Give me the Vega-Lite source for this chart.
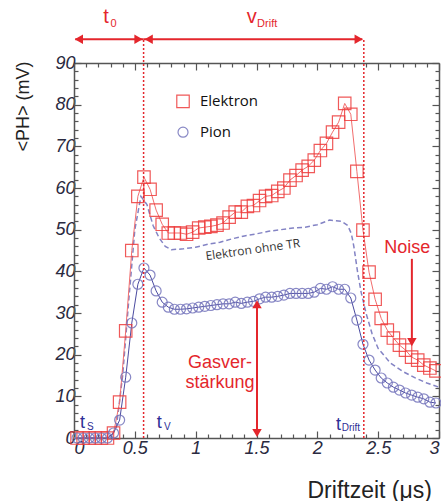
{
  "$schema": "https://vega.github.io/schema/vega-lite/v6.json",
  "width": 365,
  "height": 375,
  "autosize": "none",
  "padding": {"left": 74, "top": 63, "right": 2, "bottom": 63},
  "background": "white",
  "config": {
    "view": {"stroke": null},
    "axis": {
      "grid": false,
      "domainColor": "#555555",
      "domainWidth": 1.5,
      "tickColor": "#555555",
      "tickWidth": 1.2,
      "labelFont": "Liberation Sans",
      "labelFontStyle": "italic",
      "labelFontSize": 18,
      "labelColor": "#2a2a40",
      "titleFont": "Liberation Sans",
      "titleFontWeight": "normal",
      "titleColor": "#222222"
    }
  },
  "datasets": {
    "main": [
      {"s":"Elektron","t":0.025,"ph":0},{"s":"Elektron","t":0.075,"ph":0},{"s":"Elektron","t":0.125,"ph":0},{"s":"Elektron","t":0.175,"ph":0},{"s":"Elektron","t":0.225,"ph":0},{"s":"Elektron","t":0.275,"ph":0},
      {"s":"Elektron","t":0.325,"ph":1.2},{"s":"Elektron","t":0.375,"ph":8.6},{"s":"Elektron","t":0.425,"ph":25.7},{"s":"Elektron","t":0.475,"ph":45},{"s":"Elektron","t":0.525,"ph":58},{"s":"Elektron","t":0.575,"ph":62.6},{"s":"Elektron","t":0.625,"ph":59.7},{"s":"Elektron","t":0.675,"ph":54.7},{"s":"Elektron","t":0.725,"ph":51.3},{"s":"Elektron","t":0.775,"ph":49.2},{"s":"Elektron","t":0.825,"ph":49.2},{"s":"Elektron","t":0.875,"ph":49.2},{"s":"Elektron","t":0.925,"ph":48.9},{"s":"Elektron","t":0.975,"ph":49.4},
      {"s":"Elektron","t":1.025,"ph":50.4},{"s":"Elektron","t":1.075,"ph":50.6},{"s":"Elektron","t":1.125,"ph":50.8},{"s":"Elektron","t":1.175,"ph":51.1},{"s":"Elektron","t":1.225,"ph":51.6},{"s":"Elektron","t":1.275,"ph":53},{"s":"Elektron","t":1.325,"ph":54.2},{"s":"Elektron","t":1.375,"ph":54.2},{"s":"Elektron","t":1.425,"ph":55.6},{"s":"Elektron","t":1.475,"ph":55.8},
      {"s":"Elektron","t":1.525,"ph":57},{"s":"Elektron","t":1.575,"ph":58},{"s":"Elektron","t":1.625,"ph":58.2},{"s":"Elektron","t":1.675,"ph":59.2},{"s":"Elektron","t":1.725,"ph":60},{"s":"Elektron","t":1.775,"ph":61.9},{"s":"Elektron","t":1.825,"ph":63},{"s":"Elektron","t":1.875,"ph":64.3},{"s":"Elektron","t":1.925,"ph":65.2},{"s":"Elektron","t":1.975,"ph":66.7},
      {"s":"Elektron","t":2.025,"ph":69},{"s":"Elektron","t":2.075,"ph":70.7},{"s":"Elektron","t":2.125,"ph":73.4},{"s":"Elektron","t":2.175,"ph":75.8},{"s":"Elektron","t":2.225,"ph":80.3},{"s":"Elektron","t":2.275,"ph":77.7},{"s":"Elektron","t":2.325,"ph":64},{"s":"Elektron","t":2.375,"ph":49.9},{"s":"Elektron","t":2.425,"ph":39.8},{"s":"Elektron","t":2.475,"ph":33.3},
      {"s":"Elektron","t":2.525,"ph":28.7},{"s":"Elektron","t":2.575,"ph":25.9},{"s":"Elektron","t":2.625,"ph":24},{"s":"Elektron","t":2.675,"ph":22.3},{"s":"Elektron","t":2.725,"ph":21.1},{"s":"Elektron","t":2.775,"ph":19.4},{"s":"Elektron","t":2.825,"ph":18.7},{"s":"Elektron","t":2.875,"ph":17.5},{"s":"Elektron","t":2.925,"ph":16.8},{"s":"Elektron","t":2.975,"ph":16.1},
      {"s":"Pion","t":0.025,"ph":0},{"s":"Pion","t":0.075,"ph":0},{"s":"Pion","t":0.125,"ph":0},{"s":"Pion","t":0.175,"ph":0},{"s":"Pion","t":0.225,"ph":0},{"s":"Pion","t":0.275,"ph":0},
      {"s":"Pion","t":0.325,"ph":1.2},{"s":"Pion","t":0.375,"ph":4.3},{"s":"Pion","t":0.425,"ph":14.6},{"s":"Pion","t":0.475,"ph":27.6},{"s":"Pion","t":0.525,"ph":36.9},{"s":"Pion","t":0.575,"ph":40.8},{"s":"Pion","t":0.625,"ph":39.1},{"s":"Pion","t":0.675,"ph":35.3},{"s":"Pion","t":0.725,"ph":32.6},{"s":"Pion","t":0.775,"ph":31.4},{"s":"Pion","t":0.825,"ph":30.9},{"s":"Pion","t":0.875,"ph":30.9},{"s":"Pion","t":0.925,"ph":31},{"s":"Pion","t":0.975,"ph":31.2},
      {"s":"Pion","t":1.025,"ph":31.4},{"s":"Pion","t":1.075,"ph":31.6},{"s":"Pion","t":1.125,"ph":31.8},{"s":"Pion","t":1.175,"ph":32},{"s":"Pion","t":1.225,"ph":32.2},{"s":"Pion","t":1.275,"ph":32.2},{"s":"Pion","t":1.325,"ph":32.6},{"s":"Pion","t":1.375,"ph":32.3},{"s":"Pion","t":1.425,"ph":32.6},{"s":"Pion","t":1.475,"ph":32.8},
      {"s":"Pion","t":1.525,"ph":33.4},{"s":"Pion","t":1.575,"ph":33.8},{"s":"Pion","t":1.625,"ph":33.8},{"s":"Pion","t":1.675,"ph":34},{"s":"Pion","t":1.725,"ph":34.3},{"s":"Pion","t":1.775,"ph":34.7},{"s":"Pion","t":1.825,"ph":34.7},{"s":"Pion","t":1.875,"ph":34.7},{"s":"Pion","t":1.925,"ph":34.7},{"s":"Pion","t":1.975,"ph":35},
      {"s":"Pion","t":2.025,"ph":35.9},{"s":"Pion","t":2.075,"ph":35.7},{"s":"Pion","t":2.125,"ph":36.3},{"s":"Pion","t":2.175,"ph":35.7},{"s":"Pion","t":2.225,"ph":35.7},{"s":"Pion","t":2.275,"ph":33.6},{"s":"Pion","t":2.325,"ph":28.3},{"s":"Pion","t":2.375,"ph":22.5},{"s":"Pion","t":2.425,"ph":18.7},{"s":"Pion","t":2.475,"ph":16.3},
      {"s":"Pion","t":2.525,"ph":14.4},{"s":"Pion","t":2.575,"ph":13.2},{"s":"Pion","t":2.625,"ph":12.2},{"s":"Pion","t":2.675,"ph":11.5},{"s":"Pion","t":2.725,"ph":10.8},{"s":"Pion","t":2.775,"ph":10.3},{"s":"Pion","t":2.825,"ph":9.8},{"s":"Pion","t":2.875,"ph":9.4},{"s":"Pion","t":2.925,"ph":8.6},{"s":"Pion","t":2.975,"ph":8.4}
    ],
    "legend": [{"s":"Elektron","t":0.896,"ph":80.8},{"s":"Pion","t":0.896,"ph":73.4}],
    "ohne": [
      {"t":0,"ph":0},{"t":0.3,"ph":0},{"t":0.35,"ph":3},{"t":0.4,"ph":15},{"t":0.45,"ph":33},{"t":0.5,"ph":50},{"t":0.55,"ph":58},{"t":0.6,"ph":56},{"t":0.65,"ph":51},{"t":0.7,"ph":48},{"t":0.75,"ph":46},{"t":0.8,"ph":45.2},{"t":0.9,"ph":45.4},{"t":1.0,"ph":45.8},{"t":1.1,"ph":46.5},{"t":1.2,"ph":47},{"t":1.3,"ph":47.8},{"t":1.4,"ph":48.5},{"t":1.5,"ph":49},{"t":1.6,"ph":49.6},{"t":1.7,"ph":50},{"t":1.8,"ph":50.4},{"t":1.9,"ph":50.6},{"t":2.0,"ph":51.2},{"t":2.1,"ph":52.3},{"t":2.2,"ph":52},{"t":2.25,"ph":51},{"t":2.28,"ph":49},{"t":2.3,"ph":46},{"t":2.33,"ph":40},{"t":2.36,"ph":35},{"t":2.4,"ph":30},{"t":2.45,"ph":25},{"t":2.5,"ph":21.5},{"t":2.6,"ph":18},{"t":2.7,"ph":16},{"t":2.8,"ph":14.5},{"t":2.9,"ph":13.2},{"t":3.0,"ph":12.2}
    ],
    "vlines": [{"t":0.572},{"t":2.382}],
    "harrows": [{"t":0.01,"t2":0.572,"ph":95.7},{"t":0.572,"t2":2.37,"ph":95.7}],
    "varrows": [{"t":1.504,"ph":1,"ph2":32.5},{"t":2.777,"ph":23.5,"ph2":43}],
    "tri": [
      {"dir":"left","t":0.04,"ph":95.7},{"dir":"right","t":0.53,"ph":95.7},{"dir":"left","t":0.614,"ph":95.7},{"dir":"right","t":2.34,"ph":95.7},
      {"dir":"up","t":1.504,"ph":32.1},{"dir":"down","t":1.504,"ph":1.2},{"dir":"down","t":2.777,"ph":23}
    ],
    "texts": [
      {"g":"redbig","txt":"t","t":0.24,"ph":99.5},{"g":"redbig","txt":"v","t":1.42,"ph":99.5},
      {"g":"redsub","txt":"0","t":0.30,"ph":98.7},{"g":"redsub","txt":"Drift","t":1.505,"ph":98.7},
      {"g":"redmid","txt":"Gasver-","t":1.2,"ph":16.8},{"g":"redmid","txt":"stärkung","t":1.2,"ph":12},{"g":"redmid","txt":"Noise","t":2.74,"ph":44.4},
      {"g":"navy","txt":"t","t":0.05,"ph":2.3},{"g":"navy","txt":"t","t":0.68,"ph":2.3},{"g":"navy","txt":"t","t":2.153,"ph":2.0},
      {"g":"navysub","txt":"S","t":0.107,"ph":1.9},{"g":"navysub","txt":"V","t":0.74,"ph":1.9},{"g":"navysub","txt":"Drift","t":2.2,"ph":1.6},
      {"g":"gray","txt":"Elektron ohne TR","t":1.47,"ph":45.2},
      {"g":"leg","txt":"Elektron","t":1.035,"ph":80.8},{"g":"leg","txt":"Pion","t":1.035,"ph":73.4}
    ],
    "dummy": [{"t":0,"ph":0}]
  },
  "layer": [
    {
      "data": {"name": "ohne"},
      "mark": {"type": "line", "strokeDash": [5, 3], "color": "#8383c4", "strokeWidth": 1.5},
      "encoding": {
        "x": {"field": "t", "type": "quantitative", "scale": {"domain": [0, 3], "nice": false}, "axis": null},
        "y": {"field": "ph", "type": "quantitative", "scale": {"domain": [0, 90], "nice": false}, "axis": null}
      }
    },
    {
      "data": {"name": "main"},
      "mark": {"type": "line", "strokeWidth": 1},
      "encoding": {
        "x": {"field": "t", "type": "quantitative", "scale": {"domain": [0, 3], "nice": false},
          "axis": {"orient": "bottom", "values": [0, 0.5, 1, 1.5, 2, 2.5, 3], "format": ".1~f", "tickSize": -7, "labelPadding": 8,
            "title": "Driftzeit (μs)", "titleFontSize": 23, "titleAlign": "left", "titleAnchor": null, "titleX": 233, "titleY": 59, "titleBaseline": "alphabetic"}},
        "y": {"field": "ph", "type": "quantitative", "scale": {"domain": [0, 90], "nice": false},
          "axis": {"orient": "left", "values": [0, 10, 20, 30, 40, 50, 60, 70, 80, 90], "tickSize": -7, "labelPadding": 6,
            "title": "<PH> (mV)", "titleFontSize": 18, "titleAngle": -90, "titleAlign": "center", "titleBaseline": "middle", "titleAnchor": null, "titleX": -51, "titleY": 43}},
        "stroke": {"field": "s", "type": "nominal", "scale": {"domain": ["Elektron", "Pion"], "range": ["#f26d6d", "#4b4ba0"]}, "legend": null},
        "detail": {"field": "s"}
      }
    },
    {
      "data": {"name": "main"},
      "mark": {"type": "point", "filled": false, "strokeWidth": 1.2, "opacity": 0.85},
      "encoding": {
        "x": {"field": "t", "type": "quantitative", "axis": null},
        "y": {"field": "ph", "type": "quantitative", "axis": null},
        "color": {"field": "s", "type": "nominal", "scale": {"domain": ["Elektron", "Pion"], "range": ["#ee3d3d", "#7474bc"]}, "legend": null},
        "shape": {"field": "s", "type": "nominal", "scale": {"domain": ["Elektron", "Pion"], "range": ["square", "circle"]}, "legend": null},
        "size": {"field": "s", "type": "nominal", "scale": {"domain": ["Elektron", "Pion"], "range": [155, 100]}, "legend": null}
      }
    },
    {
      "data": {"name": "legend"},
      "mark": {"type": "point", "filled": false, "strokeWidth": 1.2, "opacity": 0.85},
      "encoding": {
        "x": {"field": "t", "type": "quantitative", "axis": null},
        "y": {"field": "ph", "type": "quantitative", "axis": null},
        "color": {"field": "s", "type": "nominal", "legend": null},
        "shape": {"field": "s", "type": "nominal", "legend": null},
        "size": {"field": "s", "type": "nominal", "legend": null}
      }
    },
    {
      "data": {"name": "vlines"},
      "mark": {"type": "rule", "color": "#e4262c", "strokeWidth": 1.5, "strokeDash": [2, 2]},
      "encoding": {
        "x": {"field": "t", "type": "quantitative", "axis": null},
        "y": {"datum": 0, "axis": null},
        "y2": {"datum": 95.7}
      }
    },
    {
      "data": {"name": "harrows"},
      "mark": {"type": "rule", "color": "#e4262c", "strokeWidth": 2},
      "encoding": {
        "x": {"field": "t", "type": "quantitative", "axis": null},
        "x2": {"field": "t2"},
        "y": {"field": "ph", "type": "quantitative", "axis": null}
      }
    },
    {
      "data": {"name": "varrows"},
      "mark": {"type": "rule", "color": "#e4262c", "strokeWidth": 2},
      "encoding": {
        "x": {"field": "t", "type": "quantitative", "axis": null},
        "y": {"field": "ph", "type": "quantitative", "axis": null},
        "y2": {"field": "ph2"}
      }
    },
    {
      "data": {"name": "tri"},
      "transform": [{"filter": "datum.dir == 'left'"}],
      "mark": {"type": "point", "shape": "triangle-left", "filled": true, "color": "#e4262c", "size": 90, "opacity": 1},
      "encoding": {"x": {"field": "t", "type": "quantitative", "axis": null}, "y": {"field": "ph", "type": "quantitative", "axis": null}}
    },
    {
      "data": {"name": "tri"},
      "transform": [{"filter": "datum.dir == 'right'"}],
      "mark": {"type": "point", "shape": "triangle-right", "filled": true, "color": "#e4262c", "size": 90, "opacity": 1},
      "encoding": {"x": {"field": "t", "type": "quantitative", "axis": null}, "y": {"field": "ph", "type": "quantitative", "axis": null}}
    },
    {
      "data": {"name": "tri"},
      "transform": [{"filter": "datum.dir == 'up'"}],
      "mark": {"type": "point", "shape": "triangle-up", "filled": true, "color": "#e4262c", "size": 90, "opacity": 1},
      "encoding": {"x": {"field": "t", "type": "quantitative", "axis": null}, "y": {"field": "ph", "type": "quantitative", "axis": null}}
    },
    {
      "data": {"name": "tri"},
      "transform": [{"filter": "datum.dir == 'down'"}],
      "mark": {"type": "point", "shape": "triangle-down", "filled": true, "color": "#e4262c", "size": 90, "opacity": 1},
      "encoding": {"x": {"field": "t", "type": "quantitative", "axis": null}, "y": {"field": "ph", "type": "quantitative", "axis": null}}
    },
    {
      "data": {"name": "texts"},
      "transform": [{"filter": "datum.g == 'redbig'"}],
      "mark": {"type": "text", "font": "Liberation Sans", "fontSize": 20, "color": "#e4262c", "align": "left", "baseline": "alphabetic"},
      "encoding": {"x": {"field": "t", "type": "quantitative", "axis": null}, "y": {"field": "ph", "type": "quantitative", "axis": null}, "text": {"field": "txt"}}
    },
    {
      "data": {"name": "texts"},
      "transform": [{"filter": "datum.g == 'redsub'"}],
      "mark": {"type": "text", "font": "Liberation Sans", "fontSize": 11, "color": "#e4262c", "align": "left", "baseline": "alphabetic"},
      "encoding": {"x": {"field": "t", "type": "quantitative", "axis": null}, "y": {"field": "ph", "type": "quantitative", "axis": null}, "text": {"field": "txt"}}
    },
    {
      "data": {"name": "texts"},
      "transform": [{"filter": "datum.g == 'redmid'"}],
      "mark": {"type": "text", "font": "Liberation Sans", "fontSize": 18, "color": "#e4262c", "align": "center", "baseline": "alphabetic"},
      "encoding": {"x": {"field": "t", "type": "quantitative", "axis": null}, "y": {"field": "ph", "type": "quantitative", "axis": null}, "text": {"field": "txt"}}
    },
    {
      "data": {"name": "texts"},
      "transform": [{"filter": "datum.g == 'navy'"}],
      "mark": {"type": "text", "font": "Liberation Sans", "fontSize": 18, "color": "#2e2e96", "align": "left", "baseline": "alphabetic"},
      "encoding": {"x": {"field": "t", "type": "quantitative", "axis": null}, "y": {"field": "ph", "type": "quantitative", "axis": null}, "text": {"field": "txt"}}
    },
    {
      "data": {"name": "texts"},
      "transform": [{"filter": "datum.g == 'navysub'"}],
      "mark": {"type": "text", "font": "Liberation Sans", "fontSize": 10, "color": "#2e2e96", "align": "left", "baseline": "alphabetic"},
      "encoding": {"x": {"field": "t", "type": "quantitative", "axis": null}, "y": {"field": "ph", "type": "quantitative", "axis": null}, "text": {"field": "txt"}}
    },
    {
      "data": {"name": "texts"},
      "transform": [{"filter": "datum.g == 'gray'"}],
      "mark": {"type": "text", "font": "Open Sans", "fontSize": 12, "color": "#333333", "align": "center", "baseline": "middle", "angle": -8},
      "encoding": {"x": {"field": "t", "type": "quantitative", "axis": null}, "y": {"field": "ph", "type": "quantitative", "axis": null}, "text": {"field": "txt"}}
    },
    {
      "data": {"name": "texts"},
      "transform": [{"filter": "datum.g == 'leg'"}],
      "mark": {"type": "text", "font": "Open Sans", "fontSize": 15, "color": "#111111", "align": "left", "baseline": "middle"},
      "encoding": {"x": {"field": "t", "type": "quantitative", "axis": null}, "y": {"field": "ph", "type": "quantitative", "axis": null}, "text": {"field": "txt"}}
    },
    {
      "data": {"name": "dummy"},
      "mark": {"type": "point", "opacity": 0},
      "encoding": {
        "x": {"field": "t", "type": "quantitative", "axis": {"orient": "bottom", "values": [0.1,0.2,0.3,0.4,0.6,0.7,0.8,0.9,1.1,1.2,1.3,1.4,1.6,1.7,1.8,1.9,2.1,2.2,2.3,2.4,2.6,2.7,2.8,2.9], "labels": false, "domain": false, "tickSize": -4, "title": null}},
        "y": {"field": "ph", "type": "quantitative", "axis": {"orient": "left", "values": [2,4,6,8,12,14,16,18,22,24,26,28,32,34,36,38,42,44,46,48,52,54,56,58,62,64,66,68,72,74,76,78,82,84,86,88], "labels": false, "domain": false, "tickSize": -4, "title": null}}
      }
    },
    {
      "data": {"name": "dummy"},
      "mark": {"type": "point", "opacity": 0},
      "encoding": {
        "x": {"field": "t", "type": "quantitative", "axis": {"orient": "top", "values": [0, 0.5, 1, 1.5, 2, 2.5, 3], "labels": false, "tickSize": -7, "title": null}},
        "y": {"field": "ph", "type": "quantitative", "axis": {"orient": "right", "values": [0, 10, 20, 30, 40, 50, 60, 70, 80, 90], "labels": false, "tickSize": -7, "title": null}}
      }
    },
    {
      "data": {"name": "dummy"},
      "mark": {"type": "point", "opacity": 0},
      "encoding": {
        "x": {"field": "t", "type": "quantitative", "axis": {"orient": "top", "values": [0.1,0.2,0.3,0.4,0.6,0.7,0.8,0.9,1.1,1.2,1.3,1.4,1.6,1.7,1.8,1.9,2.1,2.2,2.3,2.4,2.6,2.7,2.8,2.9], "labels": false, "domain": false, "tickSize": -4, "title": null}},
        "y": {"field": "ph", "type": "quantitative", "axis": {"orient": "right", "values": [2,4,6,8,12,14,16,18,22,24,26,28,32,34,36,38,42,44,46,48,52,54,56,58,62,64,66,68,72,74,76,78,82,84,86,88], "labels": false, "domain": false, "tickSize": -4, "title": null}}
      }
    }
  ],
  "resolve": {"axis": {"x": "independent", "y": "independent"}}
}
